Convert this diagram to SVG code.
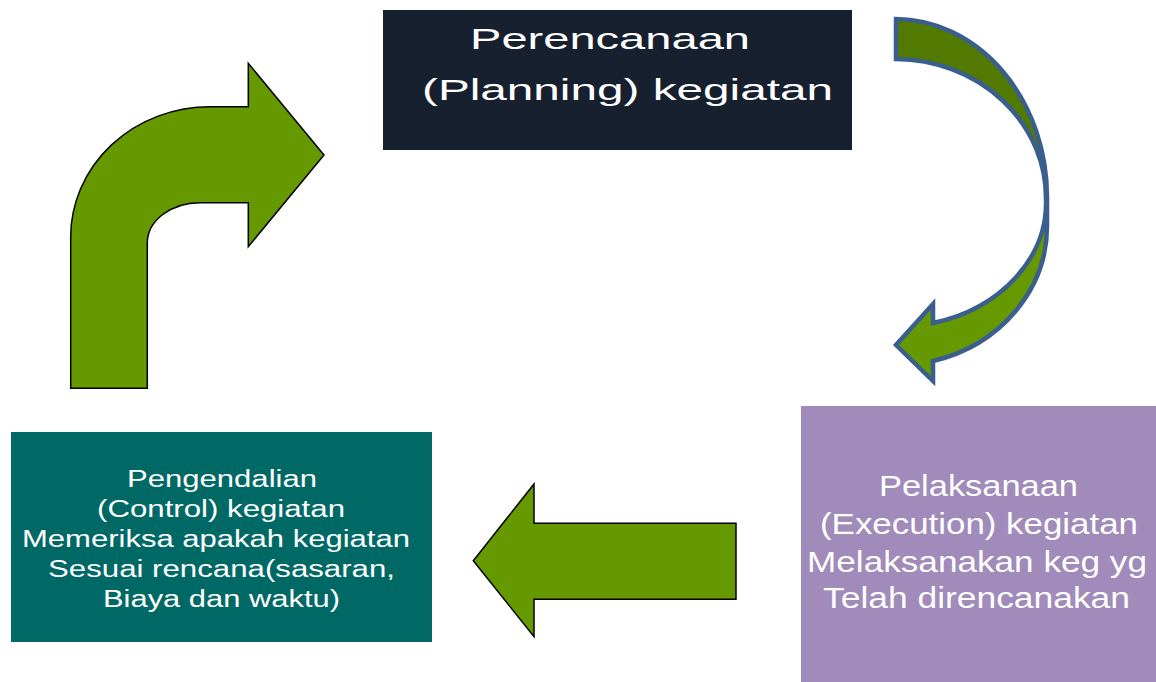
<svg xmlns="http://www.w3.org/2000/svg" width="1156" height="682" viewBox="0 0 1156 682">
  <style>
    .lbl { font-family: "Liberation Sans", Arial, sans-serif; fill: #ffffff; }
    .t30 { font-size: 30px; }
    .t29 { font-size: 29px; }
    .t23 { font-size: 23px; }
    .arrow { fill: #669900; stroke: #000000; stroke-width: 1.5; stroke-linejoin: miter; }
    .carrow { stroke: #3a5e8e; stroke-width: 4.5; stroke-linejoin: miter; }
  </style>
  <rect width="1156" height="682" fill="#ffffff"/>

  <g id="connectors">
    <!-- control -> planning (bent up arrow) -->
    <path id="arrow-control-planning" class="arrow" d="M70.7,388.3 L70.7,237 A139.3,130.3 0 0 1 210,106.7 L248.3,106.7 L248.3,63.3 L324,155 L248.3,246.7 L248.3,202.7 L200,202.7 A52.7,40.3 0 0 0 147.3,243 L147.3,388.3 Z"/>
    <!-- planning -> execution (curved arrow) -->
    <g id="arrow-planning-execution">
      <path class="carrow" fill="#527a00" d="M896,19 A152,178 0 0 1 1047,197 L1046,200 A151,139 0 0 0 896,59 Z"/>
      <path class="carrow" fill="#669900" d="M1047,197 L1047,225 A152,139 0 0 1 933,361 L933,381 L896,345 L933,304 L933,323 A151,124 0 0 0 1046,200 Z"/>
    </g>
    <!-- execution -> control (left arrow) -->
    <path id="arrow-execution-control" class="arrow" d="M473.3,560.7 L534,484 L534,523.3 L736,523.3 L736,599.3 L534,599.3 L534,636.7 Z"/>
  </g>

  <g id="planning">
    <rect x="383" y="10" width="469" height="140" fill="#16202f"/>
    <text class="lbl t30" x="470" y="49" textLength="280" lengthAdjust="spacingAndGlyphs">Perencanaan</text>
    <text class="lbl t30" x="422" y="100" textLength="411" lengthAdjust="spacingAndGlyphs">(Planning) kegiatan</text>
  </g>

  <g id="execution">
    <rect x="801" y="406" width="355" height="276" fill="#a08bba"/>
    <text class="lbl t29" x="879" y="496" textLength="199" lengthAdjust="spacingAndGlyphs">Pelaksanaan</text>
    <text class="lbl t29" x="820" y="534" textLength="318" lengthAdjust="spacingAndGlyphs">(Execution) kegiatan</text>
    <text class="lbl t29" x="807" y="572" textLength="340" lengthAdjust="spacingAndGlyphs">Melaksanakan keg yg</text>
    <text class="lbl t29" x="823" y="608" textLength="307" lengthAdjust="spacingAndGlyphs">Telah direncanakan</text>
  </g>

  <g id="control">
    <rect x="11" y="432" width="421" height="210" fill="#006965"/>
    <text class="lbl t23" x="127" y="487" textLength="190" lengthAdjust="spacingAndGlyphs">Pengendalian</text>
    <text class="lbl t23" x="97" y="517" textLength="248" lengthAdjust="spacingAndGlyphs">(Control) kegiatan</text>
    <text class="lbl t23" x="22" y="547" textLength="388" lengthAdjust="spacingAndGlyphs">Memeriksa apakah kegiatan</text>
    <text class="lbl t23" x="48" y="577" textLength="347" lengthAdjust="spacingAndGlyphs">Sesuai rencana(sasaran,</text>
    <text class="lbl t23" x="103" y="607" textLength="237" lengthAdjust="spacingAndGlyphs">Biaya dan waktu)</text>
  </g>
</svg>
